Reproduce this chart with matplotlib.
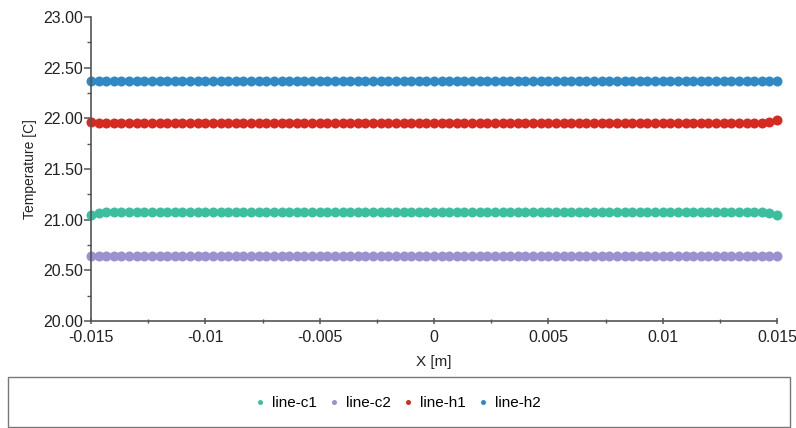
import matplotlib
matplotlib.use("Agg")
import matplotlib.pyplot as plt
import numpy as np
from matplotlib.patches import Rectangle
from matplotlib.ticker import MultipleLocator

plt.rcParams['font.family'] = ['Liberation Sans', 'DejaVu Sans']

# sample positions along the line (91 probes between -0.015 and 0.015 m)
n_pts = 91
x_start, x_end = -0.015, 0.015

# temperatures [C]
c1 = [21.05, 21.065] + [21.075] * 87 + [21.065, 21.05]
c2 = [20.64] * 91
h1 = [21.965] + [21.95] * 88 + [21.965, 21.98]
h2 = [22.37] * 91

names = ["line-c1", "line-c2", "line-h1", "line-h2"]
colors = ["#3dbf9f", "#9c90d0", "#d42a1f", "#3189c4"]

x_ticks = [-0.015, -0.01, -0.005, 0, 0.005, 0.01, 0.015]
x_tick_labels = ["-0.015", "-0.01", "-0.005", "0", "0.005", "0.01", "0.015"]
y_ticks = [20.0, 20.5, 21.0, 21.5, 22.0, 22.5, 23.0]

x = np.linspace(x_start, x_end, n_pts)

fig = plt.figure(figsize=(7.96, 4.28), dpi=100)
ax = fig.add_axes([91 / 796, 107 / 428, 686 / 796, 304 / 428])

for name, ys, col in zip(names, [c1, c2, h1, h2], colors):
    ax.plot(x, ys, linestyle='none', marker='o', markersize=7.2,
            color=col, markeredgewidth=0, label=name, clip_on=False)

ax.set_xlim(x_start, x_end)
ax.set_ylim(20.0, 23.0)
ax.set_xticks(x_ticks)
ax.set_xticklabels(x_tick_labels)
ax.set_yticks(y_ticks)
ax.set_yticklabels([f"{v:.2f}" for v in y_ticks])
ax.xaxis.set_minor_locator(MultipleLocator(0.0025))
ax.yaxis.set_minor_locator(MultipleLocator(0.25))

for side in ['top', 'right']:
    ax.spines[side].set_visible(False)
for side in ['left', 'bottom']:
    ax.spines[side].set_color('#555555')
    ax.spines[side].set_linewidth(1.2)

ax.tick_params(axis='both', which='major', labelsize=11.5, colors='#555555',
               labelcolor='#222222', length=5, width=1.1)
ax.tick_params(axis='x', which='both', direction='inout')
ax.tick_params(axis='both', which='minor', colors='#555555', length=3, width=1)
ax.tick_params(axis='x', pad=4)
ax.tick_params(axis='y', pad=1)

ax.set_ylabel("Temperature [C]", fontsize=10, color='#222222', labelpad=4)
ax.set_xlabel("X [m]", fontsize=11, color='#222222', labelpad=7)

# boxed legend strip at the bottom
fig.patches.append(Rectangle((8 / 796, 1 / 428), 782 / 796, 50 / 428,
                             transform=fig.transFigure, fill=False,
                             edgecolor='#777777', linewidth=1))
handles, labels = ax.get_legend_handles_labels()
fig.legend(handles, labels, loc='center', bbox_to_anchor=(0.5, 25 / 428),
           ncol=4, frameon=False, fontsize=11, markerscale=0.5,
           handlelength=0.6, handletextpad=0.5, columnspacing=0.8)

fig.savefig("out.png", dpi=100)
plt.close(fig)
